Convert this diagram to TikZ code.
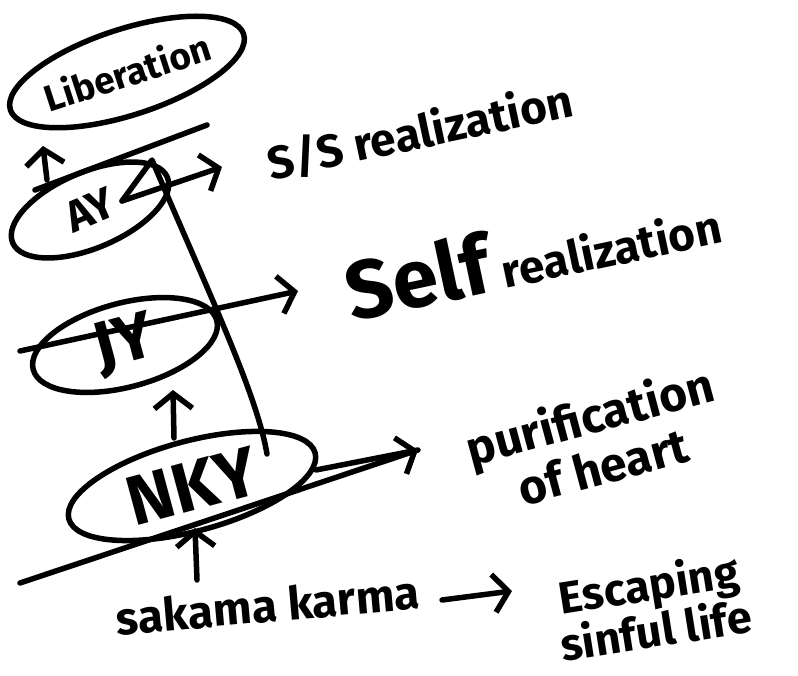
\documentclass[tikz,border=0pt]{standalone}
\usepackage{fontspec}
\setmainfont{Fira Sans}
\usetikzlibrary{shapes.geometric}
\usetikzlibrary{arrows.meta}
\tikzstyle{oval} = [draw, ellipse, inner sep=0pt]
\tikzstyle{barb} = [-{Straight Barb[length=15pt,width=38pt]}]

\begin{document}
\begin{tikzpicture}[x=1pt, y=-1pt, line width=5.5pt, line cap=round, line join=round,
				note/.style={font=\bfseries\fontsize{46}{50}\selectfont, align=center, inner sep=0pt}]
				\useasboundingbox (0,0) rectangle (798,676);

				% stages
				\node (lib) at (127,72) [oval, rotate=18, minimum width=228pt, minimum height=86pt, font=\bfseries\fontsize{37}{40}\selectfont] {Liberation};
				\node (ay) at (90,210) [oval, rotate=23, minimum width=168pt, minimum height=76pt, font=\bfseries\fontsize{44}{46}\selectfont] {AY};
				\node (jy) at (125,345) [oval, rotate=15, minimum width=190pt, minimum height=84pt, font=\bfseries\fontsize{66}{68}\selectfont] {JY};
				\node (nky) at (192,486) [oval, rotate=15, minimum width=255pt, minimum height=90pt, font=\bfseries\fontsize{70}{72}\selectfont] {NKY};

				% outcomes
				\node (ss) at (420,132) [note, rotate=12] {S/S realization};
				\node (self) at (532,252) [note, rotate=12] {{\fontsize{82}{86}\selectfont Self} realization};
				\node (pur) at (596,440) [note, rotate=15, font=\bfseries\fontsize{48}{52}\selectfont] {purification\\of heart};
				\node (sak) at (268,605) [note, rotate=5, font=\bfseries\fontsize{46}{50}\selectfont] {sakama karma};
				\node (esc) at (652,606) [note, rotate=9, font=\bfseries\fontsize{45}{47}\selectfont] {Escaping\\sinful life};

				% connector ends
				\coordinate (ay-up) at (47,180);
				\coordinate (lib-dn) at (43,146);
				\coordinate (rim-a) at (35,190);
				\coordinate (rim-b) at (207,125);
				\coordinate (ay-cross) at (122,201);
				\coordinate (ss-tip) at (222,167);
				\coordinate (apex) at (152,160);
				\coordinate (nky-top) at (267,454);
				\coordinate (jy-tail) at (20,351);
				\coordinate (self-tip) at (298,291);
				\coordinate (nky-up) at (174,438);
				\coordinate (jy-dn) at (173,390);
				\coordinate (base) at (20,583);
				\coordinate (pur-tip) at (418,450);
				\coordinate (nky-east) at (316,470);
				\coordinate (sak-up) at (197,580);
				\coordinate (nky-dn) at (195,528);
				\coordinate (sak-east) at (442,600);
				\coordinate (esc-west) at (512,591);

				\draw [barb] (ay-up) -- (lib-dn);
				\draw (rim-a) -- (rim-b);
				\draw [barb] (ay-cross) -- (ss-tip);
				\draw (nky-top) .. controls (257,395) and (212,300) .. (apex) -- (ay-cross);
				\draw [barb] (jy-tail) -- (self-tip);
				\draw [barb] (nky-up) -- (jy-dn);
				\draw [barb] (base) -- (pur-tip);
				\draw (nky-east) -- (pur-tip);
				\draw [barb] (sak-up) -- (nky-dn);
				\draw [barb] (sak-east) -- (esc-west);

			\end{tikzpicture}
\end{document}
